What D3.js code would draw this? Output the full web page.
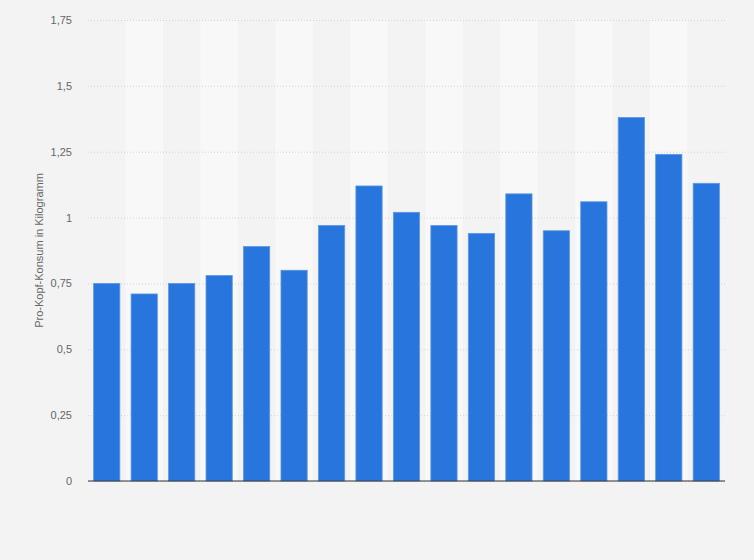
<!DOCTYPE html>
<html>
<head>
<meta charset="utf-8">
<script src="https://cdn.jsdelivr.net/npm/d3@7"></script>
<style>
  body { margin: 0; background: #f3f3f3; }
  svg { display: block; font-family: "Liberation Sans", Arial, sans-serif; }
</style>
</head>
<body>
<svg id="chart" width="754" height="560"></svg>
<script>
// data (years are not shown on the chart)
const categories = ["2004", "2005", "2006", "2007", "2008", "2009", "2010", "2011", "2012",
                    "2013", "2014", "2015", "2016", "2017", "2018", "2019", "2020"];
const values = [0.75, 0.71, 0.75, 0.78, 0.89, 0.80, 0.97, 1.12, 1.02,
                0.97, 0.94, 1.09, 0.95, 1.06, 1.38, 1.24, 1.13];
const yTicks = [0, 0.25, 0.5, 0.75, 1, 1.25, 1.5, 1.75];
const yLabel = "Pro-Kopf-Konsum in Kilogramm";

const margin = {left: 88, right: 29, top: 20, bottom: 79};
const width = 754, height = 560;

let svg = d3.select("#chart");

let x = d3.scaleBand()
    .domain(categories)
    .range([margin.left, width - margin.right])
    .paddingInner(0.3)
    .paddingOuter(0.15);

let y = d3.scaleLinear()
    .domain([0, 1.75])
    .range([height - margin.bottom, margin.top]);

let fmt = d => d3.format(",")(d).replace(".", ",");

// alternating column stripes
svg.append("g").selectAll("rect")
    .data(categories.filter((c, i) => i % 2 === 1))
    .join("rect")
    .attr("x", d => x(d) - x.step() * x.paddingInner() / 2)
    .attr("y", y(1.75))
    .attr("width", x.step())
    .attr("height", y(0) - y(1.75))
    .attr("fill", "#f8f8f8");

// y axis with dotted grid
let yAxis = svg.append("g")
    .attr("transform", `translate(${margin.left},0)`)
    .call(d3.axisLeft(y).tickValues(yTicks).tickFormat(fmt)
        .tickSize(-(width - margin.left - margin.right)).tickPadding(16));

yAxis.select(".domain").remove();
yAxis.selectAll(".tick line")
    .attr("stroke", "#d4d4d4")
    .attr("stroke-dasharray", "1,2");
yAxis.selectAll(".tick text")
    .attr("fill", "#666")
    .attr("font-size", "11px");

// bars
svg.append("g").selectAll("rect")
    .data(values)
    .join("rect")
    .attr("x", (d, i) => x(categories[i]))
    .attr("y", d => y(d))
    .attr("width", x.bandwidth())
    .attr("height", d => y(0) - y(d))
    .attr("fill", "#2876dd")
    .attr("stroke", "#5c97e6")
    .attr("stroke-width", 0.8);

// baseline
svg.append("line")
    .attr("x1", margin.left)
    .attr("x2", width - margin.right)
    .attr("y1", y(0))
    .attr("y2", y(0))
    .attr("stroke", "#333")
    .attr("stroke-width", 1.2);

// y label
svg.append("text")
    .attr("transform", `translate(43,${(y(0) + y(1.75)) / 2}) rotate(-90)`)
    .attr("text-anchor", "middle")
    .attr("fill", "#666")
    .attr("font-size", "11px")
    .text(yLabel);
</script>
</body>
</html>
